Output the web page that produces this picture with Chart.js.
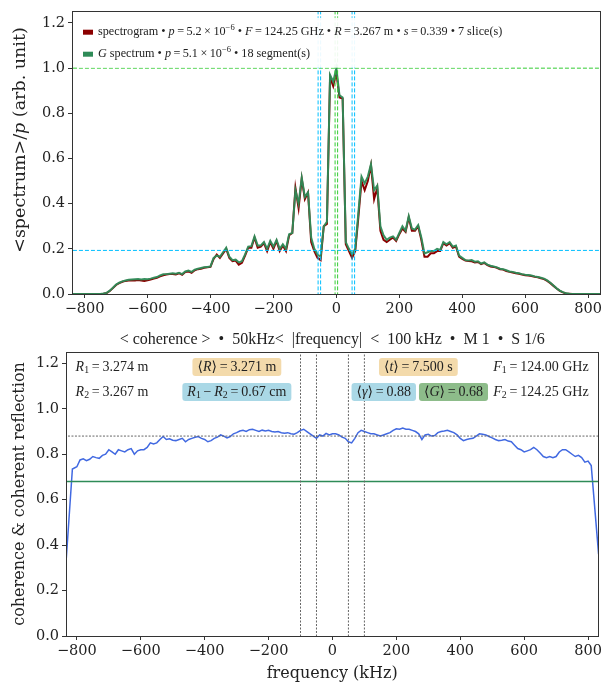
<!DOCTYPE html>
<html>
<head>
<meta charset="utf-8">
<script src="https://cdn.jsdelivr.net/npm/chart.js@4.4.0/dist/chart.umd.min.js"></script>
<style>
html, body { margin: 0; padding: 0; background: #fff; }
#wrap { position: relative; width: 605px; height: 683px; }
canvas { position: absolute; left: 0; }
</style>
</head>
<body>
<div id="wrap">
  <canvas id="spec" width="605" height="322" style="top:0"></canvas>
  <canvas id="coh" width="605" height="361" style="top:322px"></canvas>
</div>
<script>
// ---- data ----
const specFreq = [
  -840, -830, -820, -810, -800, -790, -780, -770, -760, -750,
  -740, -730, -720, -710, -700, -690, -680, -670, -660, -650,
  -640, -630, -620, -610, -600, -590, -580, -570, -560, -550,
  -540, -530, -520, -510, -500, -490, -480, -470, -460, -450,
  -440, -430, -420, -410, -400, -390, -380, -370, -360, -350,
  -340, -330, -320, -310, -300, -290, -280, -270, -260, -250,
  -240, -230, -220, -210, -200, -190, -180, -170, -160, -150,
  -140, -130, -120, -110, -100, -90, -80, -70, -60, -50,
  -40, -30, -20, -10, 0, 10, 20, 30, 40, 50,
  60, 70, 80, 90, 100, 110, 120, 130, 140, 150,
  160, 170, 180, 190, 200, 210, 220, 230, 240, 250,
  260, 270, 280, 290, 300, 310, 320, 330, 340, 350,
  360, 370, 380, 390, 400, 410, 420, 430, 440, 450,
  460, 470, 480, 490, 500, 510, 520, 530, 540, 550,
  560, 570, 580, 590, 600, 610, 620, 630, 640, 650,
  660, 670, 680, 690, 700, 710, 720, 730, 740, 750,
  760, 770, 780, 790, 800, 810, 820, 830, 840
];
const spectrogram = [
  0, 0, 0, 0, 0, 0, 0, 0, 0, 0,
  0.001, 0.004, 0.013, 0.026, 0.04, 0.048, 0.054, 0.058, 0.06, 0.06,
  0.06, 0.062, 0.06, 0.058, 0.061, 0.064, 0.068, 0.072, 0.078, 0.083,
  0.086, 0.088, 0.089, 0.086, 0.092, 0.085, 0.097, 0.1, 0.094, 0.105,
  0.11, 0.112, 0.116, 0.118, 0.12, 0.155, 0.175, 0.16, 0.18, 0.2,
  0.16, 0.145, 0.148, 0.13, 0.138, 0.17, 0.205, 0.205, 0.25, 0.205,
  0.21, 0.225, 0.19, 0.23, 0.2, 0.235, 0.19, 0.215, 0.19, 0.26,
  0.27, 0.47, 0.38, 0.51, 0.42, 0.45, 0.23, 0.19, 0.16, 0.15,
  0.3, 0.31, 0.96, 0.92, 0.98, 0.87, 0.865, 0.22, 0.19, 0.16,
  0.19, 0.34, 0.5, 0.46, 0.5, 0.57, 0.42, 0.47, 0.28, 0.24,
  0.23, 0.24, 0.25, 0.235, 0.265, 0.29, 0.275, 0.34, 0.28, 0.28,
  0.3, 0.24, 0.165, 0.165, 0.18, 0.18, 0.19, 0.19, 0.225, 0.215,
  0.225, 0.205, 0.21, 0.165, 0.155, 0.148, 0.146, 0.145, 0.14, 0.142,
  0.132, 0.138, 0.128, 0.122, 0.12, 0.116, 0.11, 0.108, 0.102, 0.098,
  0.095, 0.092, 0.09, 0.086, 0.083, 0.082, 0.08, 0.076, 0.074, 0.07,
  0.066, 0.058, 0.048, 0.036, 0.024, 0.014, 0.007, 0.002, 0.001, 0,
  0, 0, 0, 0, 0, 0, 0, 0, 0
];
const gSpectrum = [
  0, 0, 0, 0, 0, 0, 0, 0, 0, 0,
  0.002, 0.005, 0.015, 0.028, 0.042, 0.05, 0.056, 0.06, 0.063, 0.064,
  0.065, 0.066, 0.064, 0.066, 0.065, 0.068, 0.072, 0.075, 0.082, 0.087,
  0.088, 0.09, 0.092, 0.09, 0.094, 0.088, 0.1, 0.104, 0.098, 0.108,
  0.112, 0.115, 0.118, 0.12, 0.122, 0.16, 0.17, 0.165, 0.185, 0.205,
  0.165, 0.15, 0.152, 0.14, 0.145, 0.175, 0.21, 0.212, 0.255, 0.215,
  0.215, 0.23, 0.2, 0.235, 0.21, 0.24, 0.2, 0.22, 0.2, 0.265,
  0.27, 0.46, 0.4, 0.515, 0.43, 0.45, 0.25, 0.2, 0.175, 0.165,
  0.3, 0.32, 0.97, 0.94, 1.0, 0.88, 0.87, 0.23, 0.2, 0.175,
  0.2, 0.36, 0.52, 0.49, 0.52, 0.575, 0.46, 0.48, 0.3, 0.26,
  0.24, 0.25, 0.255, 0.24, 0.27, 0.3, 0.28, 0.345, 0.29, 0.285,
  0.305, 0.25, 0.18, 0.185, 0.19, 0.19, 0.2, 0.195, 0.23, 0.22,
  0.23, 0.21, 0.215, 0.17, 0.16, 0.15, 0.148, 0.15, 0.143, 0.145,
  0.135, 0.14, 0.13, 0.125, 0.122, 0.118, 0.112, 0.11, 0.105, 0.1,
  0.098, 0.094, 0.092, 0.088, 0.085, 0.084, 0.082, 0.078, 0.075, 0.072,
  0.068, 0.06, 0.05, 0.038, 0.025, 0.015, 0.008, 0.003, 0.001, 0,
  0, 0, 0, 0, 0, 0, 0, 0, 0
];
const specCyanX = [-58, -50, 50, 58];
const specGreenX = [-4, 4];
const specPeakLevel = 1.0;
const specFloorLevel = 0.193;

const cohFreq = [
  -833, -814,
  -800, -790, -780, -770, -760, -750, -740, -730, -720, -710,
  -700, -690, -680, -670, -660, -650, -640, -630, -620, -610,
  -600, -590, -580, -570, -560, -550, -540, -530, -520, -510,
  -500, -490, -480, -470, -460, -450, -440, -430, -420, -410,
  -400, -390, -380, -370, -360, -350, -340, -330, -320, -310,
  -300, -290, -280, -270, -260, -250, -240, -230, -220, -210,
  -200, -190, -180, -170, -160, -150, -140, -130, -120, -110,
  -100, -90, -80, -70, -60, -50, -40, -30, -20, -10,
  0, 10, 20, 30, 40, 50, 60, 70, 80, 90,
  100, 110, 120, 130, 140, 150, 160, 170, 180, 190,
  200, 210, 220, 230, 240, 250, 260, 270, 280, 290,
  300, 310, 320, 330, 340, 350, 360, 370, 380, 390,
  400, 410, 420, 430, 440, 450, 460, 470, 480, 490,
  500, 510, 520, 530, 540, 550, 560, 570, 580, 590,
  600, 610, 620, 630, 640, 650, 660, 670, 680, 690,
  700, 710, 720, 730, 740, 750, 760, 770, 780, 790,
  800, 810, 833
];
const coherence = [
  0.343, 0.735,
  0.745, 0.775, 0.78, 0.772, 0.778, 0.79, 0.785, 0.782, 0.795, 0.8,
  0.82, 0.81, 0.8, 0.82, 0.815, 0.81, 0.82, 0.825, 0.8, 0.815,
  0.82, 0.82, 0.83, 0.85, 0.845, 0.85, 0.865, 0.878, 0.865, 0.868,
  0.862, 0.86, 0.865, 0.87, 0.855, 0.865, 0.87, 0.875, 0.878, 0.87,
  0.865, 0.855, 0.86, 0.87, 0.875, 0.885, 0.88, 0.872, 0.878, 0.89,
  0.895, 0.902, 0.905, 0.9, 0.908, 0.91, 0.905, 0.9, 0.906, 0.902,
  0.905, 0.9, 0.898, 0.9, 0.895, 0.892, 0.895, 0.89, 0.888, 0.895,
  0.905, 0.91, 0.9, 0.89, 0.88, 0.87, 0.885, 0.88, 0.892, 0.885,
  0.89, 0.89, 0.885, 0.875, 0.87, 0.855, 0.85, 0.87, 0.895, 0.905,
  0.9, 0.895, 0.89, 0.89, 0.885, 0.88, 0.885, 0.89, 0.895, 0.905,
  0.912, 0.91, 0.915, 0.91, 0.91, 0.905, 0.9, 0.89, 0.865, 0.885,
  0.888, 0.88, 0.882, 0.895, 0.9, 0.902, 0.905, 0.9, 0.895, 0.885,
  0.87, 0.86, 0.865, 0.868, 0.87, 0.88, 0.89, 0.888, 0.885, 0.878,
  0.872, 0.865, 0.86, 0.862, 0.865, 0.858, 0.855, 0.84, 0.825, 0.82,
  0.81, 0.815, 0.82, 0.83, 0.82, 0.805, 0.79, 0.785, 0.79, 0.785,
  0.79, 0.81, 0.82, 0.82, 0.81, 0.8, 0.79, 0.795, 0.785, 0.765,
  0.77, 0.75, 0.36
];
const cohBandX = [-100, -50, 50, 100];
const cohMean = 0.88;
const gMean = 0.68;

const freqTicks = [-800, -600, -400, -200, 0, 200, 400, 600, 800];
const yTicks = [0, 0.2, 0.4, 0.6, 0.8, 1.0, 1.2];

// ---- helpers ----
const SERIF = "'DejaVu Serif', serif";
const TIMES = "'Liberation Serif', 'DejaVu Serif', serif";
const INK = '#222';

function pts(xs, ys) { return xs.map((x, i) => ({ x: x, y: ys[i] })); }
function vline(x, color, dash, w) {
  return { data: [{ x: x, y: -10 }, { x: x, y: 10 }], borderColor: color, borderWidth: w || 1, borderDash: dash, pointRadius: 0, order: 1 };
}
function hline(y, color, dash, w) {
  return { data: [{ x: -2000, y: y }, { x: 2000, y: y }], borderColor: color, borderWidth: w || 1, borderDash: dash, pointRadius: 0, order: 1 };
}
function fmtFreq(v) { return v < 0 ? '\u2212' + (-v) : String(v); }

// rich text: segs = [[text, kind]] with kind '', 'i', 'sub', 'sup'
function richParts(ctx, segs, size, family) {
  return segs.map(s => {
    const kind = s[1] || '';
    const small = kind === 'sub' || kind === 'sup';
    const font = (kind === 'i' ? 'italic ' : '') + (small ? size * 0.7 : size) + 'px ' + (family || TIMES);
    ctx.font = font;
    return { t: s[0], font: font, w: ctx.measureText(s[0]).width,
      dy: kind === 'sub' ? size * 0.25 : kind === 'sup' ? -size * 0.35 : 0 };
  });
}
function richWidth(ctx, segs, size) {
  return richParts(ctx, segs, size).reduce((a, p) => a + p.w, 0);
}
function drawRich(ctx, segs, x, y, size, align, family) {
  const parts = richParts(ctx, segs, size, family);
  const total = parts.reduce((a, p) => a + p.w, 0);
  let cx = align === 'center' ? x - total / 2 : align === 'right' ? x - total : x;
  ctx.textAlign = 'left';
  ctx.textBaseline = 'middle';
  parts.forEach(p => { ctx.font = p.font; ctx.fillText(p.t, cx, y + p.dy); cx += p.w; });
  return total;
}

const framePlugin = {
  id: 'frame',
  afterDraw(chart) {
    const { ctx, chartArea: a } = chart;
    const l = Math.round(a.left - 0.5) + 0.5, r = Math.round(a.right - 0.5) + 0.5;
    const t = Math.round(a.top - 0.5) + 0.5, b = Math.round(a.bottom - 0.5) + 0.5;
    ctx.save();
    ctx.strokeStyle = '#333';
    ctx.lineWidth = 1;
    ctx.strokeRect(l, t, r - l, b - t);
    ctx.restore();
  }
};

function xAxis(min, max, h, title) {
  return {
    type: 'linear', min: min, max: max,
    afterBuildTicks: s => { s.ticks = freqTicks.map(v => ({ value: v })); },
    afterFit: s => { s.height = h; },
    ticks: { font: { family: SERIF, size: 14.5 }, color: INK, padding: 3, maxRotation: 0, autoSkip: false, callback: v => fmtFreq(v) },
    grid: { display: true, drawOnChartArea: false, drawTicks: true, tickLength: 4, color: '#333' },
    border: { display: false },
    title: title ? { display: true, text: title, color: INK, font: { family: SERIF, size: 16 }, padding: { top: 0, bottom: 0 } } : { display: false }
  };
}
function yAxis(w, title) {
  return {
    min: 0, max: 1.25,
    afterBuildTicks: s => { s.ticks = yTicks.map(v => ({ value: v })); },
    afterFit: s => { s.width = w; },
    ticks: { font: { family: SERIF, size: 14.5 }, color: INK, padding: 3, callback: v => v.toFixed(1) },
    grid: { display: true, drawOnChartArea: false, drawTicks: true, tickLength: 4, color: '#333' },
    border: { display: false },
    title: title ? { display: true, text: title, color: INK, font: { family: SERIF, size: 16 }, padding: { top: 10, bottom: 0 } } : { display: false }
  };
}

// ---- top: spectra ----
const legendRows = [
  { color: '#8b0000', segs: [['spectrogram \u2022 '], ['p', 'i'], ['\u2009=\u20095.2\u2009\u00d7\u200910'], ['\u22126', 'sup'],
      [' \u2022 '], ['F', 'i'], ['\u2009=\u2009124.25 GHz \u2022 '], ['R', 'i'], ['\u2009=\u20093.267 m \u2022 '],
      ['s', 'i'], ['\u2009=\u20090.339 \u2022 7 slice(s)']] },
  { color: '#2e8b57', segs: [['G', 'i'], [' spectrum \u2022 '], ['p', 'i'], ['\u2009=\u20095.1\u2009\u00d7\u200910'], ['\u22126', 'sup'],
      [' \u2022 18 segment(s)']] }
];
const specYTitle = [['<spectrum>/'], ['p', 'i'], [' (arb. unit)']];

const specLegend = {
  id: 'specLegend',
  afterDatasetsDraw(chart) {
    const { ctx, chartArea: a } = chart;
    const size = 12.2;
    const x0 = a.left + 11;
    const ys = [a.top + 20.5, a.top + 42.5];
    ctx.save();
    const w = Math.max(...legendRows.map(r => richWidth(ctx, r.segs, size)));
    ctx.fillStyle = 'rgba(255,255,255,0.92)';
    ctx.fillRect(a.left + 5, a.top + 6, w + 30, 50);
    legendRows.forEach((r, i) => {
      ctx.fillStyle = r.color;
      ctx.fillRect(x0, ys[i] - 2.5, 10, 5);
      ctx.fillStyle = INK;
      drawRich(ctx, r.segs, x0 + 15, ys[i], size, 'left');
    });
    ctx.restore();
  },
  afterDraw(chart) {
    const { ctx } = chart;
    ctx.save();
    ctx.translate(20, 140);
    ctx.rotate(-Math.PI / 2);
    ctx.fillStyle = INK;
    drawRich(ctx, specYTitle, 0, 0, 17.5, 'center', SERIF);
    ctx.restore();
  }
};

const cyan = '#00bfff', lime = '#33cc33';
new Chart(document.getElementById('spec'), {
  type: 'line',
  data: {
    datasets: [
      ...specCyanX.map(x => vline(x, cyan, [4, 2])),
      ...specGreenX.map(x => vline(x, lime, [4, 2])),
      hline(specPeakLevel, lime, [4, 2]),
      hline(specFloorLevel, cyan, [4, 2]),
      { label: 'G spectrum', data: pts(specFreq, gSpectrum), borderColor: 'rgba(46,139,87,0.95)', borderWidth: 2, pointRadius: 0, order: 2 },
      { label: 'spectrogram', data: pts(specFreq, spectrogram), borderColor: '#8b0000', borderWidth: 2, pointRadius: 0, order: 3 }
    ]
  },
  options: {
    responsive: false, animation: false, devicePixelRatio: 1,
    layout: { padding: { top: 8, right: 2, left: 0, bottom: 0 } },
    plugins: { legend: { display: false }, tooltip: { enabled: false } },
    scales: {
      x: xAxis(-840, 840, 28, null),
      y: yAxis(72, null)
    }
  },
  plugins: [specLegend, framePlugin]
});

// ---- bottom: coherence ----
const tan = '#f3daab', blue = '#aad8e6', green = '#8dbc8a';
const cohTitle = '< coherence >  \u2022  50kHz<  |frequency|  <  100 kHz  \u2022  M 1  \u2022  S 1/6';
const cohNotes = [
  { segs: [['R', 'i'], ['1', 'sub'], ['\u2009=\u20093.274 m']], fx: 0.018, row: 0, align: 'left' },
  { segs: [['R', 'i'], ['2', 'sub'], ['\u2009=\u20093.267 m']], fx: 0.018, row: 1, align: 'left' },
  { segs: [['\u27e8'], ['R', 'i'], ['\u27e9\u2009=\u20093.271 m']], fx: 0.321, row: 0, align: 'center', box: tan },
  { segs: [['R', 'i'], ['1', 'sub'], ['\u2009\u2212\u2009'], ['R', 'i'], ['2', 'sub'], ['\u2009=\u20090.67 cm']], fx: 0.321, row: 1, align: 'center', box: blue },
  { segs: [['\u27e8'], ['t', 'i'], ['\u27e9\u2009=\u20097.500 s']], fx: 0.662, row: 0, align: 'center', box: tan },
  { segs: [['\u27e8'], ['\u03b3', 'i'], ['\u27e9\u2009=\u20090.88']], fx: 0.597, row: 1, align: 'center', box: blue },
  { segs: [['\u27e8'], ['G', 'i'], ['\u27e9\u2009=\u20090.68']], fx: 0.728, row: 1, align: 'center', box: green },
  { segs: [['F', 'i'], ['1', 'sub'], ['\u2009=\u2009124.00 GHz']], fx: 0.982, row: 0, align: 'right' },
  { segs: [['F', 'i'], ['2', 'sub'], ['\u2009=\u2009124.25 GHz']], fx: 0.982, row: 1, align: 'right' }
];

const cohAnnot = {
  id: 'cohAnnot',
  afterDraw(chart) {
    const { ctx, chartArea: a } = chart;
    const size = 14;
    ctx.save();
    cohNotes.forEach(n => {
      const x = a.left + n.fx * (a.right - a.left);
      const y = a.top + (n.row === 0 ? 15 : 40);
      if (n.box) {
        const w = richWidth(ctx, n.segs, size);
        ctx.fillStyle = n.box;
        ctx.beginPath();
        ctx.roundRect(x - w / 2 - 5, y - 9, w + 10, 18, 3);
        ctx.fill();
      }
      ctx.fillStyle = INK;
      drawRich(ctx, n.segs, x, y, size, n.align);
    });
    // title centred over the plot area
    ctx.fillStyle = INK;
    ctx.font = '16px ' + TIMES;
    ctx.textAlign = 'center';
    ctx.textBaseline = 'middle';
    ctx.fillText(cohTitle, (a.left + a.right) / 2, a.top - 12);
    ctx.restore();
  }
};

const dotGray = '#666';
new Chart(document.getElementById('coh'), {
  type: 'line',
  data: {
    datasets: [
      ...cohBandX.map(x => vline(x, dotGray, [2, 1.5])),
      hline(cohMean, dotGray, [2, 1.5]),
      hline(gMean, '#2e8b57', [], 1.3),
      { label: 'coherence', data: pts(cohFreq, coherence), borderColor: '#4169e1', borderWidth: 1.5, pointRadius: 0, order: 2 }
    ]
  },
  options: {
    responsive: false, animation: false, devicePixelRatio: 1,
    layout: { padding: { top: 30, right: 6, left: 0, bottom: 0 } },
    plugins: { legend: { display: false }, tooltip: { enabled: false } },
    scales: {
      x: xAxis(-834, 832, 47, 'frequency (kHz)'),
      y: yAxis(66, 'coherence & coherent reflection')
    }
  },
  plugins: [cohAnnot, framePlugin]
});
</script>
</body>
</html>
